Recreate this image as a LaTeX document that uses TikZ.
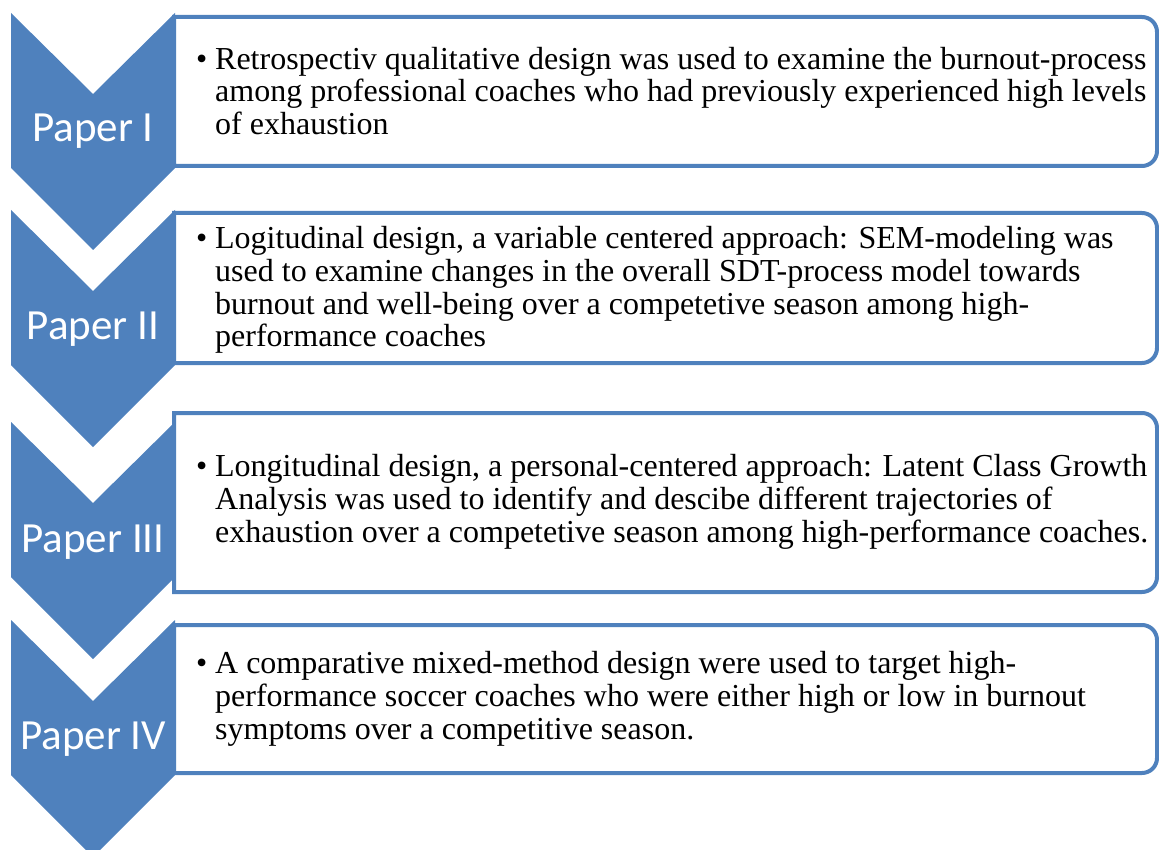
\documentclass[tikz,border=0pt]{standalone}
\usepackage{fontspec}
\setmainfont{Liberation Serif}
\newfontfamily\labelfont{Carlito}
\definecolor{accblue}{HTML}{4F81BD}
\tikzset{
  chev/.style={fill=accblue, draw=none},
  infobox/.style={draw=accblue, line width=4pt, fill=white},
  paperlabel/.style={text=white, font=\labelfont\fontsize{43}{48}\selectfont, inner sep=0pt},
  bodytext/.style={anchor=west, align=left, inner sep=0pt, font=\fontsize{32}{32.7}\selectfont}
}
\newcommand{\bul}{\makebox[19pt][l]{\textbullet}}
\newcommand{\ind}{\hspace*{19pt}}
\begin{document}
\begin{tikzpicture}[x=1pt,y=1pt]
\useasboundingbox (0,0) rectangle (1159,-850);
\clip (0,0) rectangle (1159,-850);
% boxes: left x, top y, bottom y (pixel coords, y down)
\foreach \t/\b in {17/166, 213/363, 413/592, 625/773}{
  \draw[infobox] (174,-\t) -- (1142,-\t) arc[start angle=90, end angle=0, radius=15]
     -- (1157,-\b+15) arc[start angle=0, end angle=-90, radius=15] -- (174,-\b) -- cycle;
}
% chevrons
\foreach \t in {13, 210, 422, 620}{
  \fill[chev] (11,-\t) -- (93,-\t-81) -- (175,-\t) -- (175,-\t-155) -- (93,-\t-237) -- (11,-\t-155) -- cycle;
}
\node[paperlabel] (p1) at (93,-131) {Paper I};
\node[paperlabel] (p2) at (93,-329) {Paper II};
\node[paperlabel] (p3) at (93,-542) {Paper III};
\node[paperlabel] (p4) at (93,-739) {Paper IV};

\node[bodytext] (t1) at (196,-91) {\bul Retrospectiv qualitative design was used to examine the burnout-process\\
\ind among professional coaches who had previously experienced high levels\\
\ind of exhaustion};
\node[bodytext] (t2) at (196,-290) {\bul Logitudinal design, a variable centered approach: SEM-modeling was\\
\ind used to examine changes in the overall SDT-process model towards\\
\ind burnout and well-being over a competetive season among high-\\
\ind performance coaches};
\node[bodytext] (t3) at (196,-502) {\bul Longitudinal design, a personal-centered approach: Latent Class Growth\\
\ind Analysis was used to identify and descibe different trajectories of\\
\ind exhaustion over a competetive season among high-performance coaches.};
\node[bodytext] (t4) at (196,-699) {\bul A comparative mixed-method design were used to target high-\\
\ind performance soccer coaches who were either high or low in burnout\\
\ind symptoms over a competitive season.};
\end{tikzpicture}
\end{document}
